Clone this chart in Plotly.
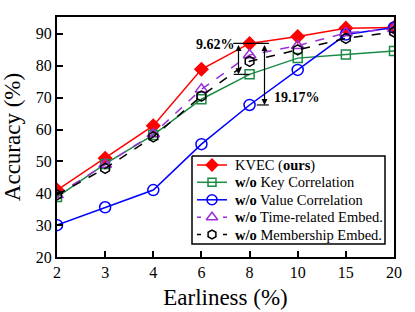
import plotly.graph_objects as go

earliness = ["2", "3", "4", "6", "8", "10", "15", "20"]
kvec = [41.0, 51.0, 61.2, 78.9, 87.0, 89.2, 91.8, 92.0]
wo_key = [38.8, 49.2, 58.3, 69.5, 77.3, 82.4, 83.5, 84.6]
wo_value = [30.0, 35.6, 41.0, 55.4, 67.7, 78.7, 89.8, 92.0]
wo_time = [39.5, 49.0, 58.6, 72.6, 83.4, 86.3, 90.3, 91.6]
wo_member = [39.5, 47.8, 57.7, 70.5, 81.4, 85.0, 88.6, 90.6]
series_names = ["KVEC (<b>ours</b>)", "<b>w/o</b> Key Correlation",
                "<b>w/o</b> Value Correlation", "<b>w/o</b> Time-related Embed.",
                "<b>w/o</b> Membership Embed."]
gap_small = "9.62%"
gap_large = "19.17%"

xs = list(range(len(earliness)))
FONT = "Liberation Serif, Times New Roman, serif"

W, H = 415, 312
ML, MR, MT, MB = 57, 21, 17, 55

styles = [
    ("#ff0000", "diamond", "solid", 10),
    ("#1a8a44", "square-open", "solid", 9),
    ("#0000ff", "circle-open", "solid", 11),
    ("#9a2fd6", "triangle-up-open", "dash", 11),
    ("#000000", "hexagon-open", "dash", 10),
]
values = [kvec, wo_key, wo_value, wo_time, wo_member]

fig = go.Figure()
for name, ys, (col, sym, dash, sz) in zip(series_names, values, styles):
    fig.add_trace(go.Scatter(
        x=xs, y=ys, name=name, mode="lines+markers", hoverinfo="skip",
        showlegend=False,
        line=dict(color=col, width=1.5, dash=dash),
        marker=dict(symbol=sym, size=sz, color=col, line=dict(color=col, width=1.5)),
    ))

# ---- legend drawn on an overlay axis in pixel units ----
bx0, bx1, by0, by1 = 192, 385, 156, 244
fig.add_trace(go.Scatter(
    x=[bx0, bx1, bx1, bx0, bx0], y=[by0, by0, by1, by1, by0],
    xaxis="x2", yaxis="y2", mode="lines", fill="toself", fillcolor="white",
    line=dict(color="black", width=1.5), hoverinfo="skip", showlegend=False))
row_y = [165, 182.3, 199.8, 217.2, 234.5]
for (col, sym, dash, sz), ry, name in zip(styles, row_y, series_names):
    if dash == "solid":
        fig.add_trace(go.Scatter(
            x=[197, 227], y=[ry, ry], xaxis="x2", yaxis="y2",
            mode="lines", line=dict(color=col, width=1.5),
            hoverinfo="skip", showlegend=False))
    else:
        for seg in ([197, 201], [223, 227]):
            fig.add_trace(go.Scatter(
                x=seg, y=[ry, ry], xaxis="x2", yaxis="y2",
                mode="lines", line=dict(color=col, width=1.5),
                hoverinfo="skip", showlegend=False))
    fig.add_trace(go.Scatter(
        x=[212], y=[ry], xaxis="x2", yaxis="y2", mode="markers",
        marker=dict(symbol=sym, size=sz - 1, color=col,
                    line=dict(color=col, width=1.5)),
        hoverinfo="skip", showlegend=False))
    fig.add_annotation(x=233, y=ry, xref="x2", yref="y2", text=name,
                       showarrow=False, xanchor="left", yanchor="middle",
                       font=dict(family=FONT, size=14.5, color="black"))

# ---- double-headed arrows showing gaps ----
x1 = 3.77
x2 = 4.31
for xa, ylow in [(x1, wo_key[4]), (x2, wo_value[4])]:
    fig.add_annotation(x=xa, y=ylow, ax=xa, ay=kvec[4], xref="x", yref="y",
                       axref="x", ayref="y", showarrow=True, arrowhead=2,
                       arrowside="end+start", arrowsize=1, arrowwidth=1.2,
                       arrowcolor="black", text="")
fig.add_shape(type="line", x0=3.66, x1=4.4, y0=kvec[4], y1=kvec[4],
              line=dict(color="black", width=1.2))
fig.add_shape(type="line", x0=3.67, x1=4.0, y0=wo_key[4], y1=wo_key[4],
              line=dict(color="black", width=1.2))
fig.add_shape(type="line", x0=4.15, x1=4.4, y0=wo_value[4], y1=wo_value[4],
              line=dict(color="black", width=1.2))
fig.add_annotation(x=3.29, y=86.6, text="<b>%s</b>" % gap_small, showarrow=False,
                   font=dict(family=FONT, size=14, color="black"))
fig.add_annotation(x=4.99, y=70.0, text="<b>%s</b>" % gap_large, showarrow=False,
                   font=dict(family=FONT, size=14, color="black"))

fig.update_layout(
    width=W, height=H,
    margin=dict(l=ML, r=MR, t=MT, b=MB, autoexpand=False),
    paper_bgcolor="white", plot_bgcolor="white",
    font=dict(family=FONT, size=14, color="black"),
    showlegend=False,
    hovermode=False,
    xaxis=dict(
        range=[0, 7], tickmode="array", tickvals=xs, ticktext=earliness,
        ticks="inside", ticklen=6, tickwidth=1.5, tickcolor="black",
        showline=True, linecolor="black", linewidth=2, mirror=True,
        showgrid=False, zeroline=False, automargin=False,
        title=dict(text="Earliness (%)", font=dict(family=FONT, size=23), standoff=9),
        tickfont=dict(family=FONT, size=16),
    ),
    yaxis=dict(
        range=[20, 95.3], tickmode="array", tickvals=[20, 30, 40, 50, 60, 70, 80, 90],
        ticks="inside", ticklen=6, tickwidth=1.5, tickcolor="black",
        showline=True, linecolor="black", linewidth=2, mirror=True,
        showgrid=False, zeroline=False, automargin=False,
        title=dict(text="Accuracy (%)", font=dict(family=FONT, size=23), standoff=12),
        tickfont=dict(family=FONT, size=16),
    ),
    xaxis2=dict(overlaying="x", anchor="y2", range=[ML, W - MR], visible=False,
                fixedrange=True),
    yaxis2=dict(overlaying="y", anchor="x2", range=[H - MB, MT], visible=False,
                fixedrange=True),
)

fig.write_html("out.html", config={"displayModeBar": False},
               post_script="document.body.style.margin='0';document.body.style.padding='0';")
